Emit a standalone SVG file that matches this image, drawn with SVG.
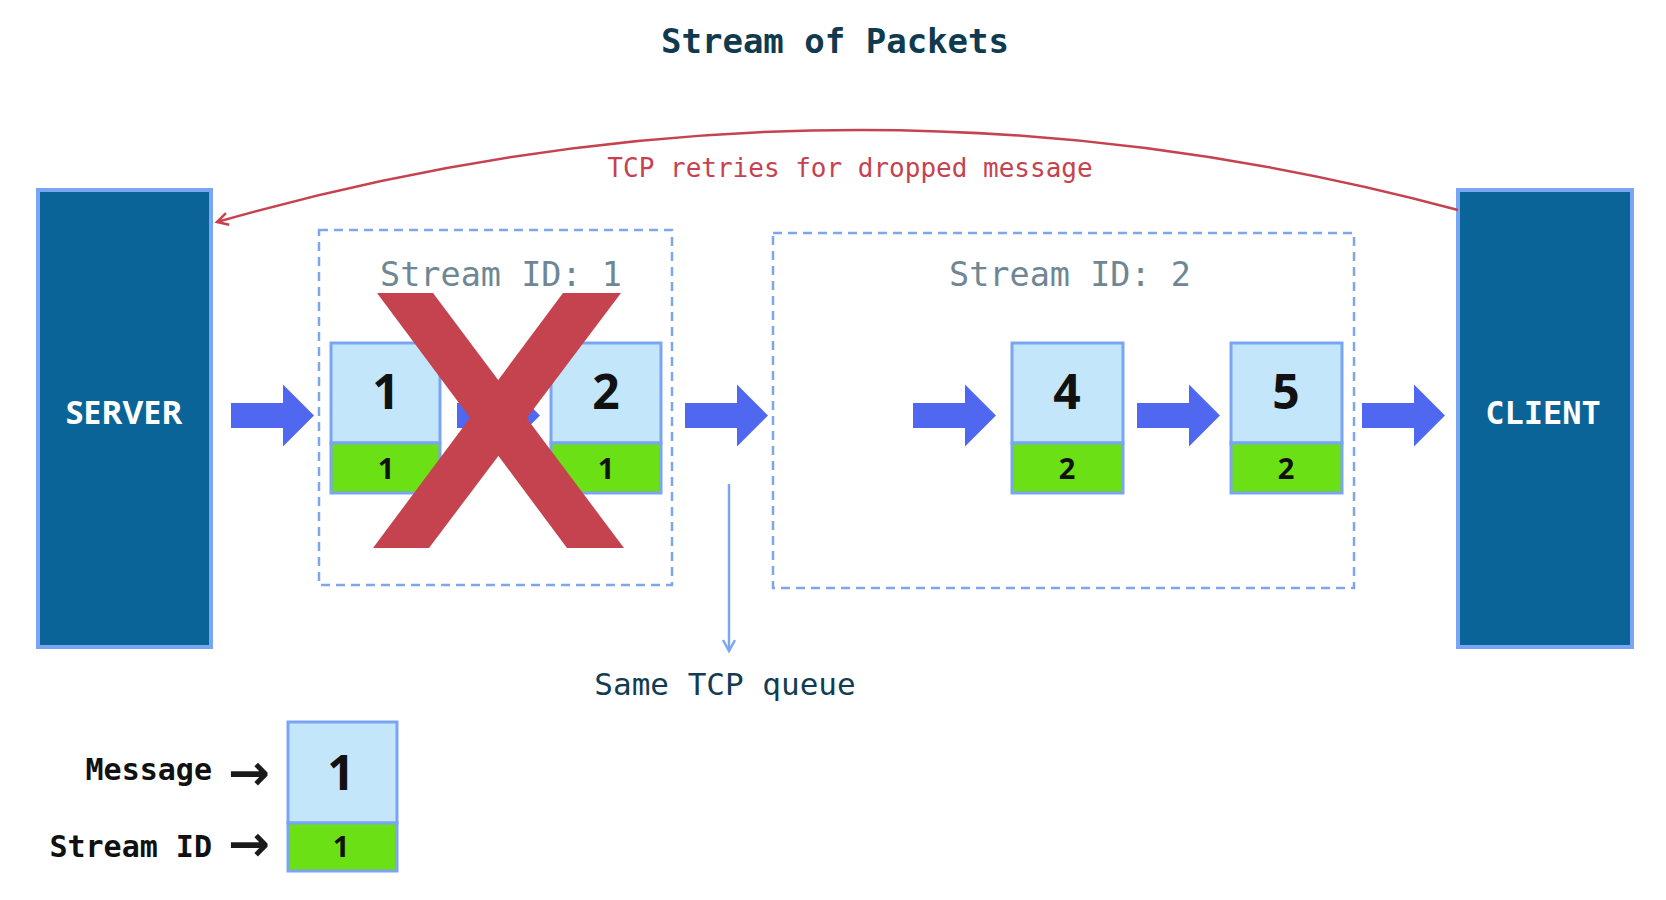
<svg xmlns="http://www.w3.org/2000/svg" width="1666" height="900" viewBox="0 0 1666 900">
<defs>
<style>
.host{fill:#0a6497;stroke:#7aa5f2;stroke-width:4}
.hostlbl{fill:#ffffff;font-weight:bold;font-size:32px;text-anchor:middle}
.dash{fill:none;stroke:#7ea6ef;stroke-width:2.5;stroke-dasharray:9 6}
.sid{fill:#6f8794;font-family:"DejaVu Sans Mono",monospace;font-size:33.5px;text-anchor:middle}
.top{fill:#c3e6fb;stroke:#7aa5f2;stroke-width:3}
.bot{fill:#6be014;stroke:#7aa5f2;stroke-width:3}
.big{font-family:"Open Sans","DejaVu Sans",sans-serif;font-weight:bold;font-size:48px;fill:#111;text-anchor:middle}
.small{font-family:"Open Sans","DejaVu Sans",sans-serif;font-weight:bold;font-size:29px;fill:#111;text-anchor:middle}
.barrow{fill:#5068ef}
.mono{font-family:"DejaVu Sans Mono",monospace}
.larr{font-family:"Noto Sans","DejaVu Sans",sans-serif;font-size:50px;font-weight:bold;fill:#1a1a1a;text-anchor:middle}
</style>
<path id="fat" d="M0,-12.5 H52 V-31 L83,0 L52,31 V12.5 H0 Z"/>
<marker id="redhead" markerWidth="16" markerHeight="16" refX="13" refY="8" orient="auto" markerUnits="userSpaceOnUse">
<path d="M2,2 L13,8 L2,14" fill="none" stroke="#c5434f" stroke-width="2.5"/>
</marker>
<marker id="bluehead" markerWidth="16" markerHeight="16" refX="13" refY="8" orient="auto" markerUnits="userSpaceOnUse">
<path d="M2,2 L13,8 L2,14" fill="none" stroke="#7ea6ef" stroke-width="2.5"/>
</marker>
</defs>
<rect width="1666" height="900" fill="#ffffff"/>

<text x="835" y="53" class="mono" font-size="34" font-weight="bold" fill="#0f3a50" text-anchor="middle">Stream of Packets</text>

<g id="server">
<rect class="host" x="38" y="190" width="173" height="457"/>
<text class="hostlbl" x="124" y="424" font-family="Open Sans, DejaVu Sans, sans-serif">SERVER</text>
</g>
<g id="client">
<rect class="host" x="1458" y="190" width="174" height="457"/>
<text class="hostlbl" x="1543" y="424" font-family="DejaVu Sans Mono, monospace">CLIENT</text>
</g>

<g id="stream1">
<rect class="dash" x="319" y="230" width="353" height="355"/>
<text class="sid" x="501" y="286">Stream ID: 1</text>
</g>
<g id="stream2">
<rect class="dash" x="773" y="233" width="581" height="355"/>
<text class="sid" x="1070" y="286">Stream ID: 2</text>
</g>

<g id="packet1">
<rect class="top" x="331" y="343" width="109" height="100"/>
<rect class="bot" x="331" y="443" width="109" height="50"/>
<text class="big" x="386" y="409">1</text>
<text class="small" x="386" y="479">1</text>
</g>
<g id="packet2">
<rect class="top" x="551" y="343" width="110" height="100"/>
<rect class="bot" x="551" y="443" width="110" height="50"/>
<text class="big" x="606" y="409">2</text>
<text class="small" x="606" y="479">1</text>
</g>
<g id="packet4">
<rect class="top" x="1012" y="343" width="111" height="100"/>
<rect class="bot" x="1012" y="443" width="111" height="50"/>
<text class="big" x="1067" y="409">4</text>
<text class="small" x="1067" y="479">2</text>
</g>
<g id="packet5">
<rect class="top" x="1231" y="343" width="111" height="100"/>
<rect class="bot" x="1231" y="443" width="111" height="50"/>
<text class="big" x="1286" y="409">5</text>
<text class="small" x="1286" y="479">2</text>
</g>

<g id="connectors">
<use href="#fat" class="barrow" transform="translate(231,415.5)"/>
<use href="#fat" class="barrow" transform="translate(457,415.5)"/>
<use href="#fat" class="barrow" transform="translate(685,415.5)"/>
<use href="#fat" class="barrow" transform="translate(913,415.5)"/>
<use href="#fat" class="barrow" transform="translate(1137,415.5)"/>
<use href="#fat" class="barrow" transform="translate(1362,415.5)"/>
<path d="M1458,210 Q840,44 217,222" fill="none" stroke="#c5434f" stroke-width="2.5" marker-end="url(#redhead)"/>
<path d="M729,484 V651" fill="none" stroke="#7ea6ef" stroke-width="2.5" marker-end="url(#bluehead)"/>
</g>

<g id="drop-x">
<polygon points="377,293 433,293 624,548 567,548" fill="#c5434f"/>
<polygon points="563,293 621,293 429,548 373,548" fill="#c5434f"/>
</g>

<text x="850" y="177" class="mono" font-size="26" fill="#c5434f" text-anchor="middle">TCP retries for dropped message</text>
<text x="725" y="695" class="mono" font-size="31" fill="#123c52" text-anchor="middle">Same TCP queue</text>

<g id="legend">
<rect class="top" x="288" y="722" width="109" height="101"/>
<rect class="bot" x="288" y="823" width="109" height="48"/>
<text class="big" x="341" y="790">1</text>
<text class="small" x="341" y="857">1</text>
<text class="mono" x="212" y="780" font-size="30" font-weight="bold" fill="#111" text-anchor="end">Message</text>
<text class="mono" x="212" y="857" font-size="30" font-weight="bold" fill="#111" text-anchor="end">Stream ID</text>
<text class="larr" x="249" y="790">→</text>
<text class="larr" x="249" y="861">→</text>
</g>
</svg>
